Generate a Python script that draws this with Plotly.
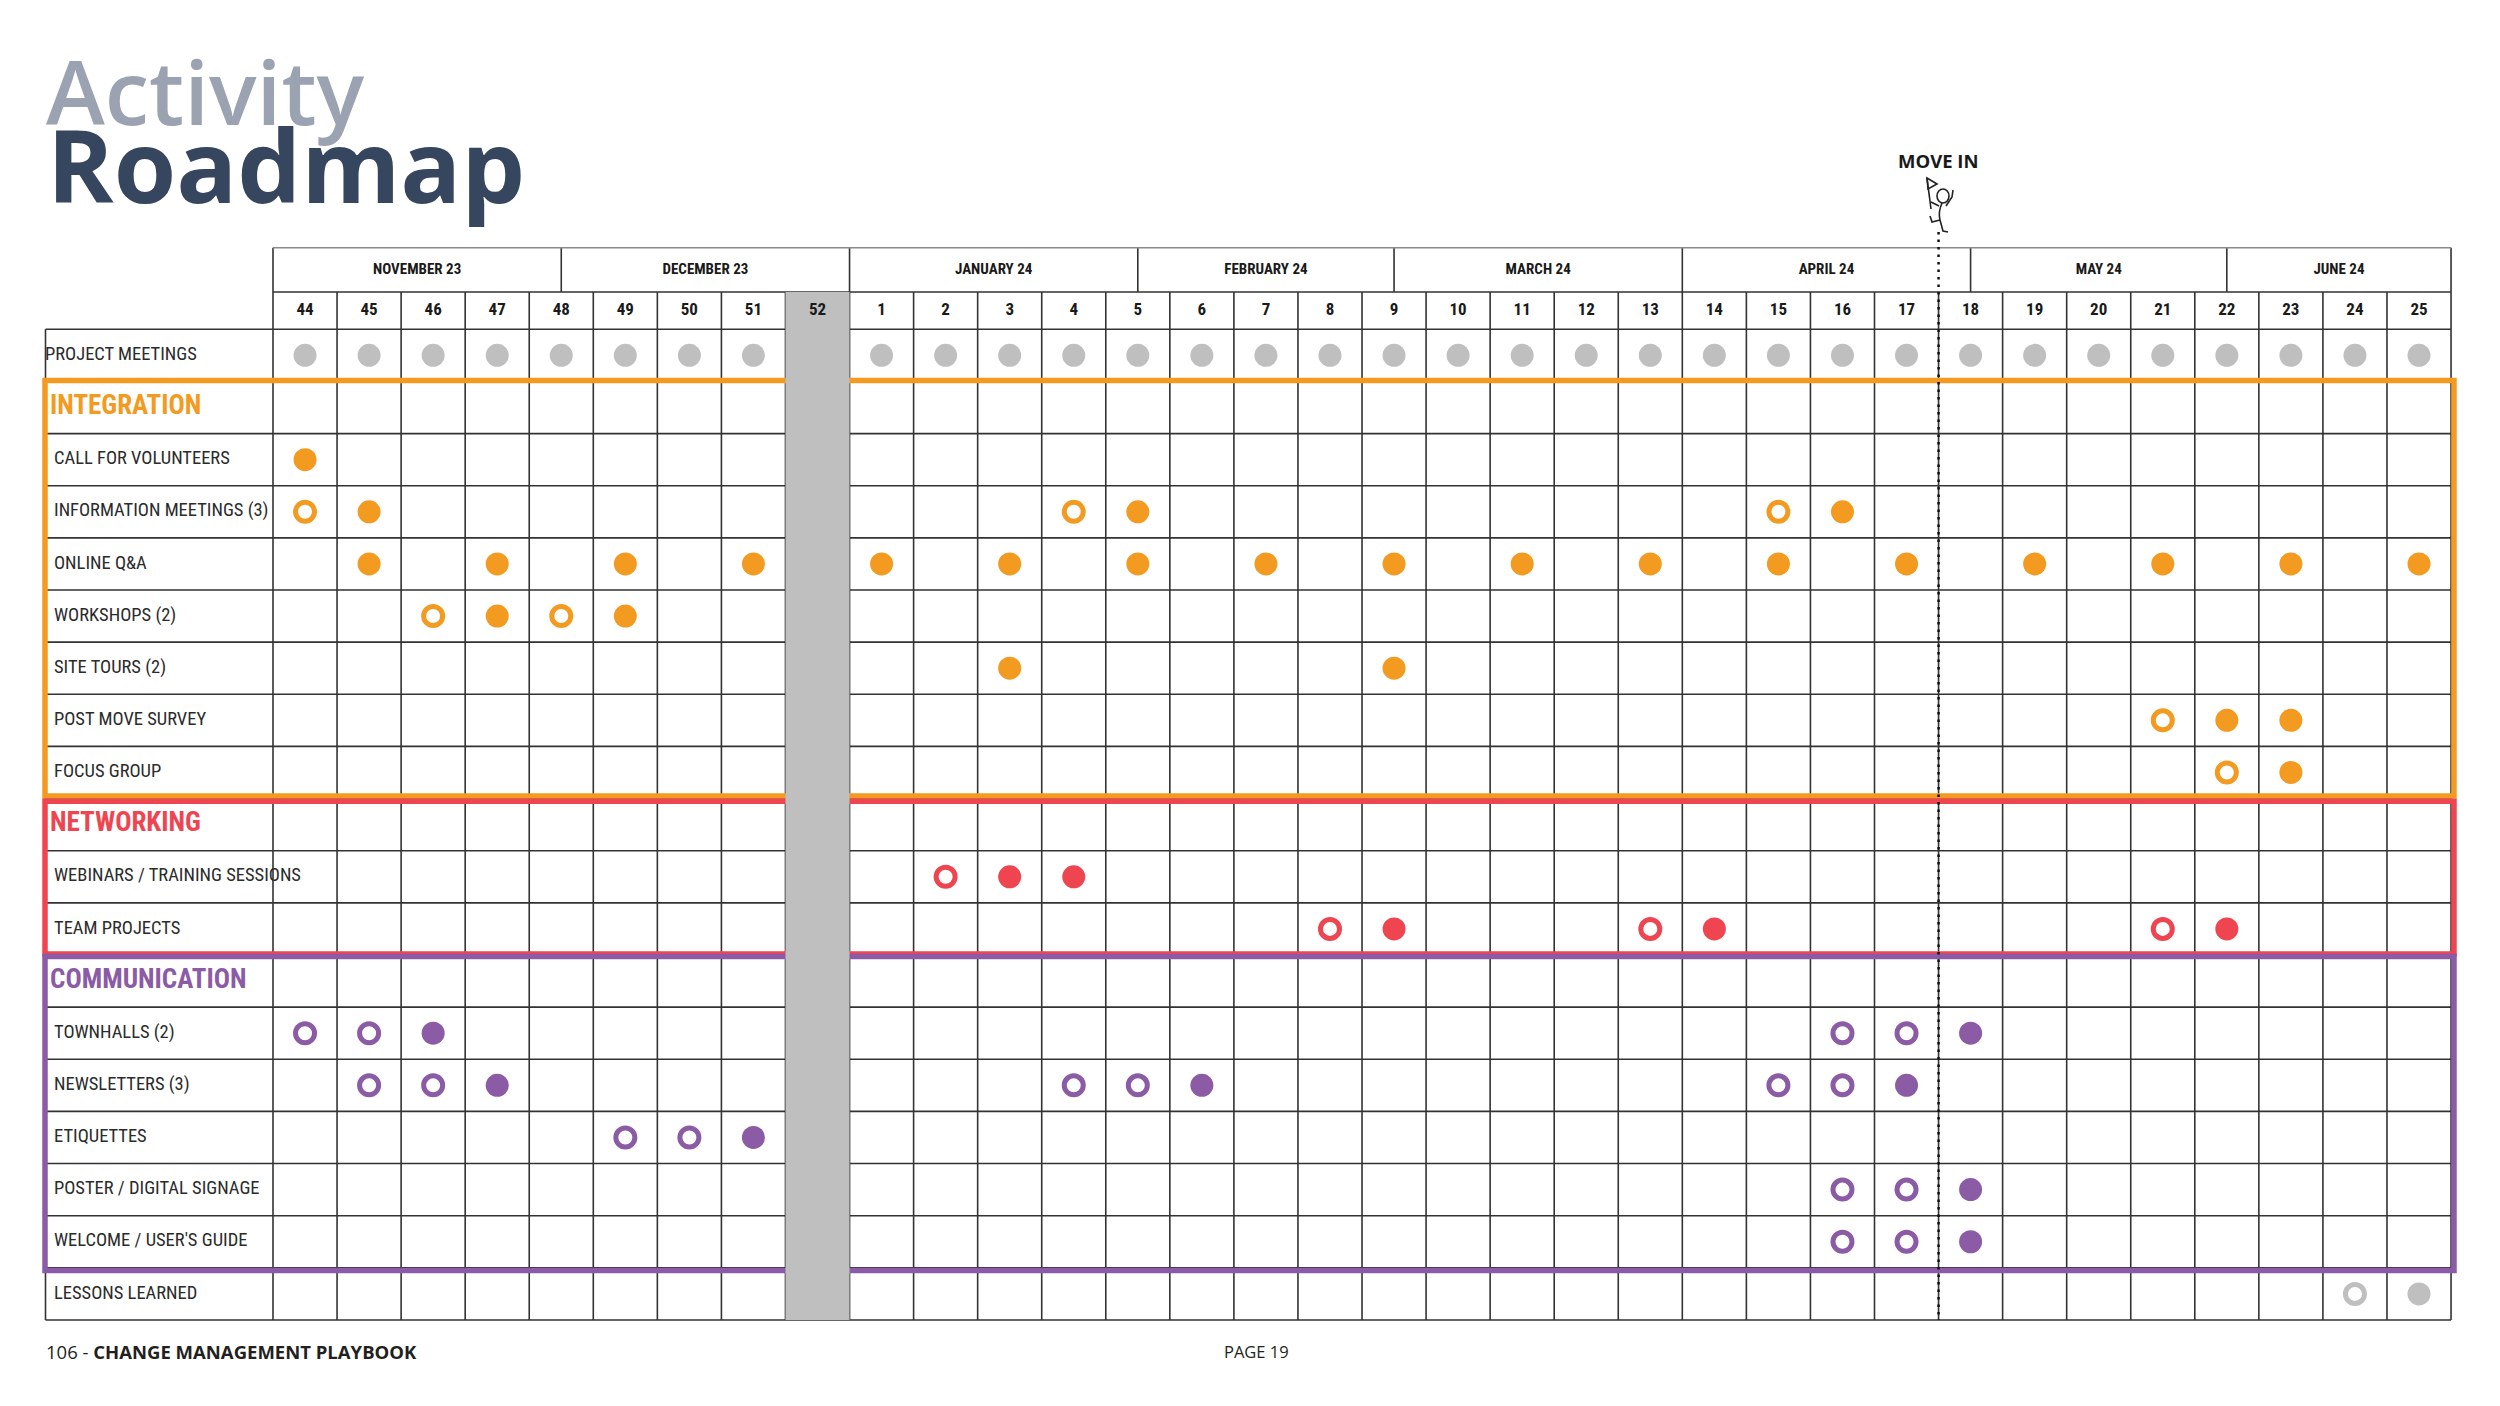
import plotly.graph_objects as go

# ---------------- data ----------------
WEEKS = ["44", "45", "46", "47", "48", "49", "50", "51", "52",
         "1", "2", "3", "4", "5", "6", "7", "8", "9", "10", "11", "12", "13",
         "14", "15", "16", "17", "18", "19", "20", "21", "22", "23", "24", "25"]
MONTHS = ["NOVEMBER 23", "DECEMBER 23", "JANUARY 24", "FEBRUARY 24",
          "MARCH 24", "APRIL 24", "MAY 24", "JUNE 24"]
MONTH_SPANS = [4.5, 4.5, 4.5, 4, 4.5, 4.5, 4, 3.5]   # width of each month in weeks
HOLIDAY_WEEK = "52"
MOVE_IN_WEEK = "18"

PROJECT_MEETINGS = ["44", "45", "46", "47", "48", "49", "50", "51",
                    "1", "2", "3", "4", "5", "6", "7", "8", "9", "10", "11", "12", "13",
                    "14", "15", "16", "17", "18", "19", "20", "21", "22", "23", "24", "25"]

INTEGRATION_ROWS = ["CALL FOR VOLUNTEERS", "INFORMATION MEETINGS (3)", "ONLINE Q&A",
                    "WORKSHOPS (2)", "SITE TOURS (2)", "POST MOVE SURVEY", "FOCUS GROUP"]
INTEGRATION_OPEN = [[], ["44", "4", "15"], [], ["46", "48"], [], ["21"], ["22"]]
INTEGRATION_FILLED = [["44"], ["45", "5", "16"],
                      ["45", "47", "49", "51", "1", "3", "5", "7", "9", "11", "13",
                       "15", "17", "19", "21", "23", "25"],
                      ["47", "49"], ["3", "9"], ["22", "23"], ["23"]]

NETWORKING_ROWS = ["WEBINARS / TRAINING SESSIONS", "TEAM PROJECTS"]
NETWORKING_OPEN = [["2"], ["8", "13", "21"]]
NETWORKING_FILLED = [["3", "4"], ["9", "14", "22"]]

COMMUNICATION_ROWS = ["TOWNHALLS (2)", "NEWSLETTERS (3)", "ETIQUETTES",
                      "POSTER / DIGITAL SIGNAGE", "WELCOME / USER'S GUIDE"]
COMMUNICATION_OPEN = [["44", "45", "16", "17"], ["45", "46", "4", "5", "15", "16"],
                      ["49", "50"], ["16", "17"], ["16", "17"]]
COMMUNICATION_FILLED = [["46", "18"], ["47", "6", "17"], ["51"], ["18"], ["18"]]

LESSONS_OPEN = ["24"]
LESSONS_FILLED = ["25"]

# ---------------- style ----------------
ORANGE = "#F39A21"
RED = "#EE4551"
PURPLE = "#8B5BA5"
GREY = "#BFBFBF"
LINE = "#333333"
NARROW = "Liberation Sans Narrow, Arial Narrow, Roboto Condensed, Roboto, sans-serif"
SANS = "Open Sans, Noto Sans, sans-serif"

OFF = 8                      # page margin of the browser body
W, H = 2500 - OFF, 1406 - OFF
COL_PX, ROW_PX = 64.06, 52.14
GRID_LEFT_PX, GRID_TOP_PX = 273.0, 329.3     # page pixels


def px_x(p):                 # p = pixel position in the page
    return -0.5 + (p - GRID_LEFT_PX) / COL_PX


def px_y(p):
    return (p - GRID_TOP_PX) / ROW_PX


def pap_x(p):
    return (p - OFF) / W


def pap_y(p):
    return 1 - (p - OFF) / H


# rows of the table
rows = [("PROJECT MEETINGS", "item", None)]
rows.append(("INTEGRATION", "head", ORANGE))
rows += [(r, "item", ORANGE) for r in INTEGRATION_ROWS]
rows.append(("NETWORKING", "head", RED))
rows += [(r, "item", RED) for r in NETWORKING_ROWS]
rows.append(("COMMUNICATION", "head", PURPLE))
rows += [(r, "item", PURPLE) for r in COMMUNICATION_ROWS]
rows.append(("LESSONS LEARNED", "item", None))
NROWS = len(rows)
row_of = {name: i for i, (name, _, _) in enumerate(rows)}


def wx(w):
    return WEEKS.index(w)


def ry(name):
    return row_of[name] + 0.5


NW = len(WEEKS)
XL = px_x(45.5)        # table left border (label column)
XR = NW - 0.5          # table right border
Y_WEEK = px_y(292)
Y_MONTH = px_y(247.7)

fig = go.Figure()
shapes = []

# ---- grid lines ----
segs = []
for k in range(NROWS + 1):
    segs.append(f"M{XL:.4f},{k} L{XR:.4f},{k}")
segs.append(f"M-0.5,{Y_WEEK:.4f} L{XR:.4f},{Y_WEEK:.4f}")
for j in range(NW + 1):
    top = Y_MONTH if j in (0, NW) else Y_WEEK
    segs.append(f"M{j - 0.5},{top:.4f} L{j - 0.5},{NROWS}")
edge = -0.5
for span in MONTH_SPANS[:-1]:
    edge += span
    segs.append(f"M{edge},{Y_MONTH:.4f} L{edge},{Y_WEEK:.4f}")
segs.append(f"M{XL:.4f},0 L{XL:.4f},{NROWS}")
shapes.append(dict(type="path", path=" ".join(segs), xref="x", yref="y",
                   line=dict(color=LINE, width=1.6), layer="below"))
shapes.append(dict(type="line", x0=-0.5, x1=XR, y0=Y_MONTH, y1=Y_MONTH,
                   xref="x", yref="y", line=dict(color="#8a8a8a", width=1.6), layer="below"))

# ---- section boxes ----
BX0, BX1 = px_x(45), px_x(2454)
shapes.append(dict(type="rect", x0=BX0, x1=BX1, y0=row_of["INTEGRATION"] - 0.02,
                   y1=row_of["NETWORKING"] - 0.05, xref="x", yref="y",
                   line=dict(color=ORANGE, width=5.5), fillcolor="rgba(0,0,0,0)", layer="below"))
shapes.append(dict(type="rect", x0=BX0, x1=BX1, y0=row_of["NETWORKING"] + 0.05,
                   y1=row_of["COMMUNICATION"] - 0.02, xref="x", yref="y",
                   line=dict(color=RED, width=5.5), fillcolor="rgba(0,0,0,0)", layer="below"))
shapes.append(dict(type="rect", x0=BX0, x1=BX1, y0=row_of["COMMUNICATION"] + 0.03,
                   y1=row_of["LESSONS LEARNED"] + 0.05, xref="x", yref="y",
                   line=dict(color=PURPLE, width=5.5), fillcolor="rgba(0,0,0,0)", layer="below"))

# ---- holiday column ----
hx = wx(HOLIDAY_WEEK)
shapes.append(dict(type="rect", x0=hx - 0.5, x1=hx + 0.5, y0=Y_WEEK, y1=NROWS,
                   xref="x", yref="y", line=dict(width=0), fillcolor=GREY, layer="below"))

# ---- move-in line ----
mx = wx(MOVE_IN_WEEK) - 0.5
shapes.append(dict(type="line", x0=mx, x1=mx, y0=px_y(232), y1=NROWS, xref="x", yref="y",
                   line=dict(color="#111111", width=2.5, dash="2.5px,5px"), layer="below"))


# ---- little person with flag (decoration) ----
def P(a, b):
    return f"{px_x(a):.4f},{px_y(b):.4f}"


fx = 1942
fig_paths = [
    f"M{P(fx, 203)} Q{P(fx - 4, 212)} {P(fx - 2, 220)}",
    f"M{P(fx - 2, 220)} L{P(fx - 10, 222)} L{P(fx - 12, 216)}",
    f"M{P(fx - 2, 220)} L{P(fx + 1, 231)} L{P(fx + 6, 232)}",
    f"M{P(fx - 3, 206)} L{P(fx - 11, 202)}",
    f"M{P(fx - 11, 209)} L{P(fx - 15, 178)}",
    f"M{P(fx - 15, 178)} L{P(fx - 5, 184)} L{P(fx - 14, 189)} Z",
    f"M{P(fx + 4, 206)} L{P(fx + 10, 197)} L{P(fx + 11, 190)}",
]
for pth in fig_paths:
    shapes.append(dict(type="path", path=pth, xref="x", yref="y",
                       line=dict(color="#222222", width=1.6), layer="below"))
shapes.append(dict(type="circle", x0=px_x(fx - 5), x1=px_x(fx + 7), y0=px_y(189), y1=px_y(203),
                   xref="x", yref="y", line=dict(color="#222222", width=1.6),
                   fillcolor="white", layer="below"))

# ---------------- text traces ----------------
# week numbers
fig.add_trace(go.Scatter(x=list(range(NW)), y=[Y_WEEK / 2] * NW, mode="text",
                         text=WEEKS, textposition="middle center",
                         textfont=dict(family=NARROW, size=17, color="#1a1a1a", weight="bold"),
                         hoverinfo="skip"))
# month names
mcx, edge = [], -0.5
for span in MONTH_SPANS:
    mcx.append(edge + span / 2)
    edge += span
fig.add_trace(go.Scatter(x=mcx, y=[(Y_MONTH + Y_WEEK) / 2] * len(MONTHS), mode="text",
                         text=MONTHS, textposition="middle center",
                         textfont=dict(family=NARROW, size=15, color="#1a1a1a", weight="bold"),
                         hoverinfo="skip"))

# row labels
item_names = [n for n, kind, _ in rows if kind == "item"]
item_x = [px_x(45) if n == "PROJECT MEETINGS" else px_x(54) for n in item_names]
fig.add_trace(go.Scatter(x=item_x, y=[ry(n) for n in item_names], mode="text",
                         text=item_names, textposition="middle right",
                         textfont=dict(family=NARROW, size=18.5, color="#2b2b2b"),
                         hoverinfo="skip"))
head_rows = [(n, c) for n, kind, c in rows if kind == "head"]
fig.add_trace(go.Scatter(x=[px_x(50)] * len(head_rows), y=[ry(n) for n, _ in head_rows],
                         mode="text", text=[n for n, _ in head_rows], textposition="middle right",
                         textfont=dict(family=NARROW, size=27, color=[c for _, c in head_rows],
                                       weight="bold"),
                         hoverinfo="skip"))


# ---------------- markers ----------------
def add_marks(row_names, open_lists, filled_lists, color):
    ox, oy, fx_, fy = [], [], [], []
    for name, ol, fl in zip(row_names, open_lists, filled_lists):
        for w in ol:
            ox.append(wx(w)); oy.append(ry(name))
        for w in fl:
            fx_.append(wx(w)); fy.append(ry(name))
    if ox:
        fig.add_trace(go.Scatter(x=ox, y=oy, mode="markers", hoverinfo="skip",
                                 marker=dict(symbol="circle-open", size=19, color=color,
                                             line=dict(color=color, width=5))))
    if fx_:
        fig.add_trace(go.Scatter(x=fx_, y=fy, mode="markers", hoverinfo="skip",
                                 marker=dict(symbol="circle", size=23, color=color,
                                             line=dict(width=0))))


add_marks(["PROJECT MEETINGS"], [[]], [PROJECT_MEETINGS], GREY)
add_marks(INTEGRATION_ROWS, INTEGRATION_OPEN, INTEGRATION_FILLED, ORANGE)
add_marks(NETWORKING_ROWS, NETWORKING_OPEN, NETWORKING_FILLED, RED)
add_marks(COMMUNICATION_ROWS, COMMUNICATION_OPEN, COMMUNICATION_FILLED, PURPLE)
add_marks(["LESSONS LEARNED"], [LESSONS_OPEN], [LESSONS_FILLED], GREY)

# ---------------- annotations ----------------
move_px = GRID_LEFT_PX + (mx + 0.5) * COL_PX
ann = [
    dict(text="Activity", x=pap_x(44), y=pap_y(90), xanchor="left", yanchor="middle",
         font=dict(family=SANS, size=89, color="#9BA3B2", weight=600)),
    dict(text="Roadmap", x=pap_x(45), y=pap_y(164), xanchor="left", yanchor="middle",
         font=dict(family=SANS, size=101, color="#36465F", weight=700)),
    dict(text="MOVE IN", x=pap_x(move_px), y=pap_y(160), xanchor="center", yanchor="middle",
         font=dict(family=SANS, size=18.5, color="#1a1a1a", weight=700)),
    dict(text="106 - <b>CHANGE MANAGEMENT PLAYBOOK</b>", x=pap_x(44), y=pap_y(1351),
         xanchor="left", yanchor="middle", font=dict(family=SANS, size=18.5, color="#231F20")),
    dict(text="PAGE 19", x=pap_x(1256), y=pap_y(1351), xanchor="center", yanchor="middle",
         font=dict(family=SANS, size=16.5, color="#231F20")),
]
for a in ann:
    a.update(xref="paper", yref="paper", showarrow=False)

fig.update_layout(
    width=W, height=H, margin=dict(l=0, r=0, t=0, b=0),
    paper_bgcolor="white", plot_bgcolor="white", showlegend=False,
    xaxis=dict(range=[px_x(OFF), px_x(OFF + W)], visible=False, fixedrange=True),
    yaxis=dict(range=[px_y(OFF + H), px_y(OFF)], visible=False, fixedrange=True),
    shapes=shapes, annotations=ann, hovermode=False,
)
fig.write_html("out.html")
